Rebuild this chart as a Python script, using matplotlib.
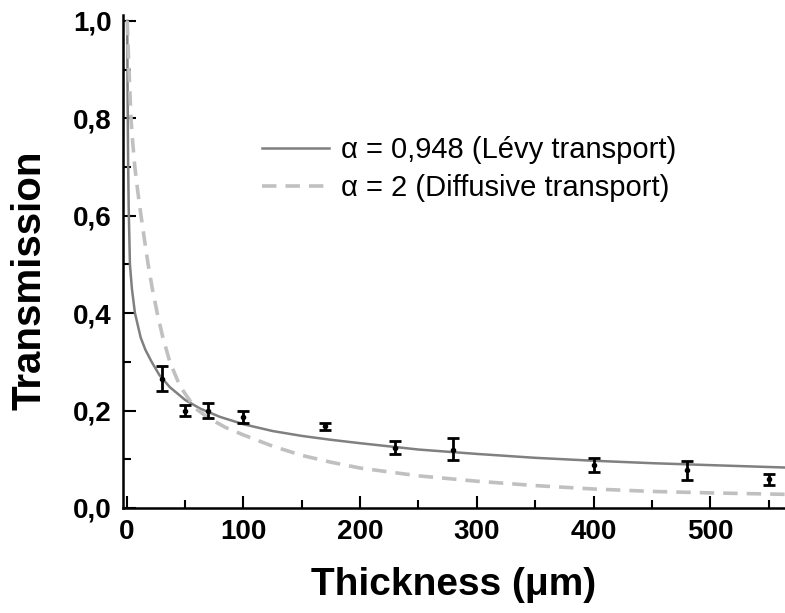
import matplotlib
matplotlib.use("Agg")
import matplotlib.pyplot as plt
from matplotlib.ticker import MultipleLocator, FuncFormatter

plt.rcParams['font.family'] = ['Liberation Sans', 'DejaVu Sans']

# Measured data (thickness in um, transmission, error half-widths)
thickness = [30, 50, 70, 100, 170, 230, 280, 400, 480, 550]
transmission = [0.265, 0.200, 0.200, 0.187, 0.168, 0.124, 0.120, 0.089, 0.078, 0.059]
err_low = [0.025, 0.011, 0.016, 0.012, 0.008, 0.014, 0.022, 0.015, 0.020, 0.012]
err_high = [0.026, 0.011, 0.016, 0.012, 0.007, 0.014, 0.023, 0.013, 0.018, 0.011]

# Curve readings (Lévy, alpha = 0.948)
levy_x = [0.5, 0.8, 1.2, 1.7, 2.8, 4.5, 7.1, 12, 16, 21.4, 28, 37, 50, 63, 80, 100,
          125, 150, 175, 200, 250, 300, 350, 400, 450, 500, 565]
levy_y = [1.0, 0.85, 0.72, 0.62, 0.5, 0.45, 0.4, 0.35, 0.325, 0.3, 0.273, 0.248, 0.222, 0.204, 0.187, 0.172,
          0.158, 0.148, 0.14, 0.133, 0.12, 0.111, 0.103, 0.097, 0.092, 0.088, 0.083]

# Curve readings (diffusive, alpha = 2)
diff_x = [0.5, 1.2, 2, 3.7, 5.2, 7, 9.5, 12.3, 15.3, 18.4, 22, 26.2, 31, 37, 45.7, 58.6, 70, 85,
          100, 125, 150, 175, 200, 250, 300, 350, 400, 450, 500, 565]
diff_y = [1.0, 0.95, 0.9, 0.8, 0.75, 0.7, 0.65, 0.6, 0.55, 0.5, 0.45, 0.4, 0.35, 0.3, 0.25, 0.205, 0.185, 0.165,
          0.15, 0.127, 0.108, 0.094, 0.082, 0.066, 0.055, 0.046, 0.039, 0.034, 0.031, 0.028]

x_ticks = [0, 100, 200, 300, 400, 500]
y_ticks = [0.0, 0.2, 0.4, 0.6, 0.8, 1.0]

fig = plt.figure(figsize=(7.85, 6.13), dpi=100)
ax = fig.add_axes([0.1563, 0.1713, 0.8437, 0.8042])

ax.plot(levy_x, levy_y, color='#808080', lw=1.8, label='α = 0,948 (Lévy transport)')
ax.plot(diff_x, diff_y, color='#c0c0c0', lw=2.6, ls=(0, (4, 2.5)), label='α = 2 (Diffusive transport)')
ax.errorbar(thickness, transmission, yerr=[err_low, err_high], fmt='o', color='black',
            ms=3, elinewidth=2, capsize=4.5, capthick=2, zorder=5)

ax.set_xlim(-3.4, 564)
ax.set_ylim(0, 1.012)
ax.set_xticks(x_ticks)
ax.set_yticks(y_ticks)
ax.xaxis.set_minor_locator(MultipleLocator(50))
ax.yaxis.set_minor_locator(MultipleLocator(0.1))
ax.yaxis.set_major_formatter(FuncFormatter(lambda v, p: f"{v:.1f}".replace('.', ',')))
ax.tick_params(which='both', direction='in', width=1.5)
ax.tick_params(which='major', length=9, labelsize=20, pad=8)
ax.tick_params(which='minor', length=6)
for lab in ax.get_xticklabels() + ax.get_yticklabels():
    lab.set_fontweight('bold')

for s in ['top', 'right']:
    ax.spines[s].set_visible(False)
for s in ['left', 'bottom']:
    ax.spines[s].set_linewidth(1.8)

ax.set_xlabel('Thickness (μm)', fontsize=28, fontweight='bold', labelpad=16)
ax.set_ylabel('Transmission', fontsize=29, fontweight='bold')
ax.yaxis.set_label_coords(-0.112, 0.4625)

leg = ax.legend(loc='upper left', bbox_to_anchor=(236 / 785, 1 - 110 / 613),
                bbox_transform=fig.transFigure, frameon=False, fontsize=21,
                handlelength=2.3, handletextpad=0.4, labelspacing=0.35)

fig.savefig('out.png', dpi=100)
